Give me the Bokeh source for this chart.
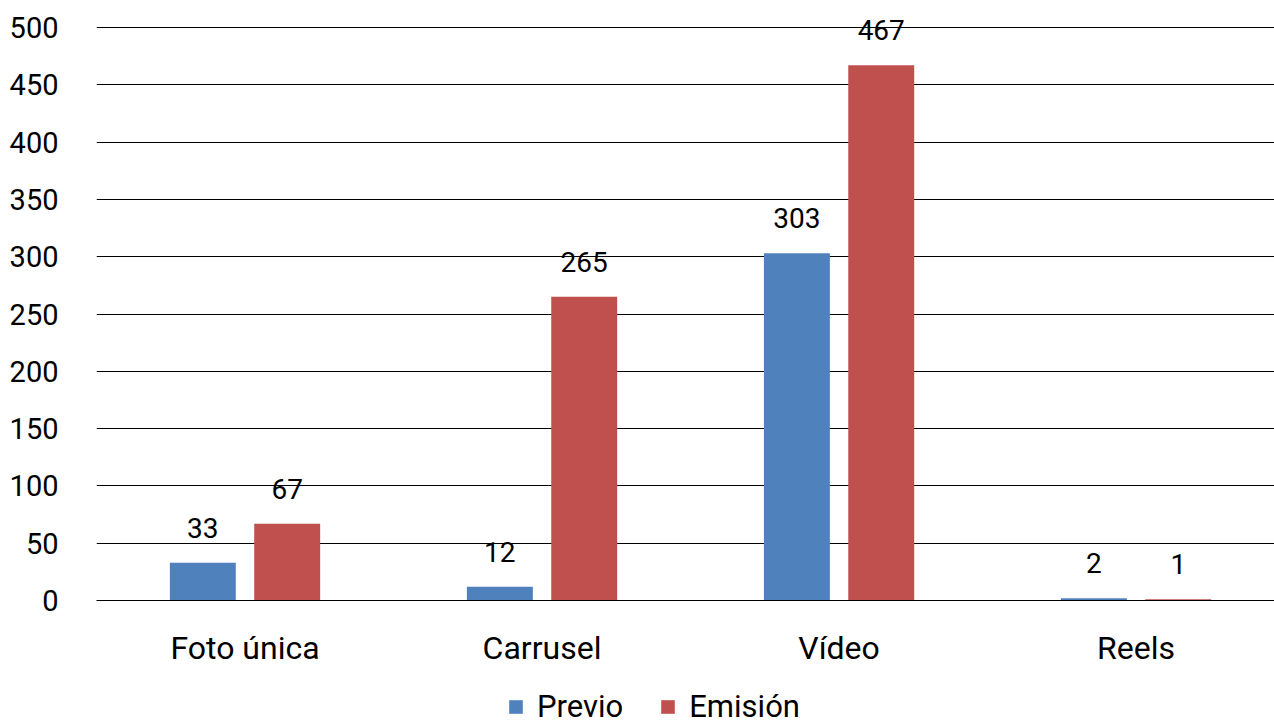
from bokeh.plotting import figure
from bokeh.layouts import column
from bokeh.models import ColumnDataSource, Range1d, Legend, LegendItem, SingleIntervalTicker, FixedTicker
from bokeh.transform import dodge
from bokeh.core.properties import value
from bokeh.embed import file_html
from bokeh.resources import INLINE

categories = ["Foto única", "Carrusel", "Vídeo", "Reels"]
previo = [33, 12, 303, 2]
emision = [67, 265, 467, 1]
series_names = ["Previo", "Emisión"]
colors = ["#4F81BD", "#C0504D"]

FONT = "Roboto"

idx = list(range(len(categories)))
src = ColumnDataSource(dict(
    x=idx,
    previo=previo,
    emision=emision,
    previo_lbl=[str(v) for v in previo],
    emision_lbl=[str(v) for v in emision],
))

p = figure(width=1274, height=685, output_backend="svg", toolbar_location=None,
           x_range=Range1d(-0.5, 3.466),
           y_range=Range1d(0, 523.6),
           min_border_left=96, min_border_right=0, min_border_top=0, min_border_bottom=85)
p.outline_line_color = None

OFF = 0.142
W = 0.222
p.vbar(x=dodge("x", -OFF), top="previo", width=W,
       source=src, fill_color=colors[0], line_color=None)
p.vbar(x=dodge("x", OFF), top="emision", width=W,
       source=src, fill_color=colors[1], line_color=None)

for col, off in (("previo", -OFF), ("emision", OFF)):
    p.text(x=dodge("x", off), y=col, text=col + "_lbl", source=src,
           text_align="center", text_baseline="middle", y_offset=-35,
           text_font=value(FONT), text_font_size="28px", text_color="#000000")

p.yaxis.ticker = SingleIntervalTicker(interval=50)
p.yaxis.axis_line_color = None
p.yaxis.major_tick_line_color = None
p.yaxis.minor_tick_line_color = None
p.yaxis.major_label_standoff = 32
p.yaxis.major_label_text_font = FONT
p.yaxis.major_label_text_font_size = "29px"
p.yaxis.major_label_text_color = "#000000"

p.xaxis.ticker = FixedTicker(ticks=idx)
p.xaxis.major_label_overrides = {i: c for i, c in zip(idx, categories)}
p.xaxis.axis_line_color = "#000000"
p.xaxis.major_tick_line_color = None
p.xaxis.minor_tick_line_color = None
p.xaxis.major_label_standoff = 22
p.xaxis.major_label_text_font = FONT
p.xaxis.major_label_text_font_size = "32px"
p.xaxis.major_label_text_color = "#000000"

p.xgrid.grid_line_color = None
p.ygrid.grid_line_color = "#000000"
p.ygrid.grid_line_width = 1

# legend strip
lg = figure(width=1274, height=40, output_backend="svg", toolbar_location=None,
            x_range=Range1d(0, 1), y_range=Range1d(0, 1),
            x_axis_location=None, y_axis_location=None,
            min_border=0, outline_line_color=None)
lg.grid.visible = False
hidden = ColumnDataSource(dict(x=[5], top=[5]))
d1 = lg.vbar(x="x", top="top", width=0.1, source=hidden,
             fill_color=colors[0], line_color=None)
d2 = lg.vbar(x="x", top="top", width=0.1, source=hidden,
             fill_color=colors[1], line_color=None)
legend = Legend(items=[LegendItem(label=series_names[0], renderers=[d1]),
                       LegendItem(label=series_names[1], renderers=[d2])],
                orientation="horizontal", location=(411, 0),
                border_line_color=None, background_fill_alpha=0,
                padding=0, margin=0, spacing=36, label_standoff=13,
                glyph_width=17, glyph_height=17,
                label_text_font=FONT, label_text_font_size="31px", label_text_color="#000000")
lg.add_layout(legend, "center")

layout = column(p, lg, spacing=0)
open("out.html", "w").write(file_html(layout, INLINE))
